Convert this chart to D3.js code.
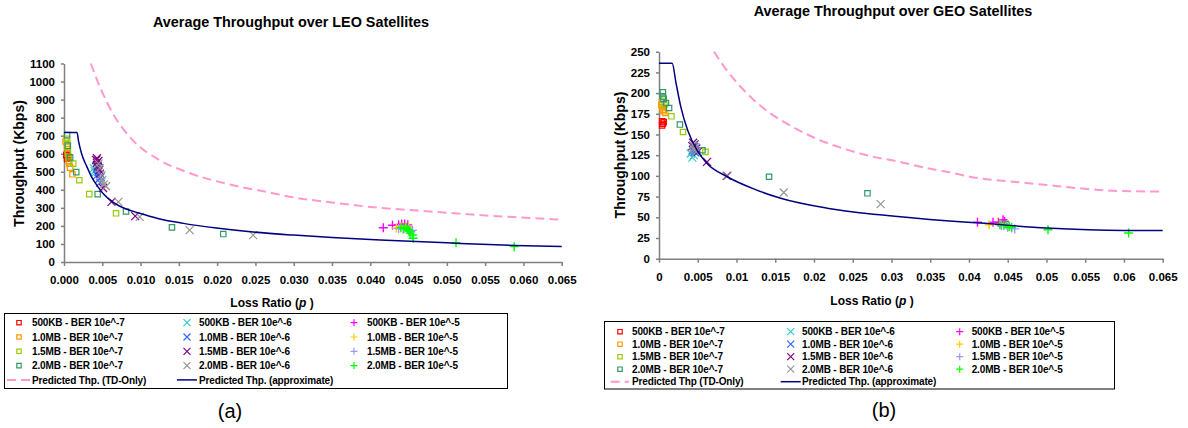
<!DOCTYPE html>
<html>
<head>
<meta charset="utf-8">
<script src="https://cdn.jsdelivr.net/npm/d3@7"></script>
<style>
  body { margin: 0; background: #fff; }
  svg { display: block; }
  text { font-family: "Liberation Sans", Arial, sans-serif; }
</style>
</head>
<body>
<svg id="fig" width="1188" height="428"></svg>
<script>
// ---- data ----
const sizeNames = [ "500KB", "1.0MB", "1.5MB", "2.0MB" ];
const berNames = [ "10e^-7", "10e^-6", "10e^-5" ];
const xTicks = [ 0, 0.005, 0.01, 0.015, 0.02, 0.025, 0.03, 0.035, 0.04, 0.045, 0.05, 0.055, 0.06, 0.065 ];
const leoYTicks = [ 0, 100, 200, 300, 400, 500, 600, 700, 800, 900, 1000, 1100 ];
const geoYTicks = [ 0, 25, 50, 75, 100, 125, 150, 175, 200, 225, 250 ];

// LEO, BER 10e^-7 (squares), one list per file size
const leoBer7 = [
  [ [ 0.0003, 592 ], [ 0.0004, 600 ], [ 0.0005, 585 ], [ 0.0006, 578 ], [ 0.0004, 572 ] ],
  [ [ 0.0002, 668 ], [ 0.0004, 640 ], [ 0.0005, 600 ], [ 0.0006, 560 ], [ 0.0007, 545 ], [ 0.0008, 523 ], [ 0.0011, 486 ] ],
  [ [ 0.0004, 683 ], [ 0.0004, 656 ], [ 0.0005, 610 ], [ 0.0006, 583 ], [ 0.0012, 545 ], [ 0.0020, 453 ], [ 0.0033, 376 ], [ 0.0068, 270 ] ],
  [ [ 0.0004, 703 ], [ 0.0005, 645 ], [ 0.0008, 580 ], [ 0.0016, 498 ], [ 0.0044, 376 ], [ 0.0081, 280 ], [ 0.0141, 192 ], [ 0.0208, 155 ] ]
];
// LEO, BER 10e^-6 (crosses)
const leoBer6 = [
  [ [ 0.0039, 520 ], [ 0.0040, 505 ], [ 0.0042, 530 ], [ 0.0044, 540 ], [ 0.0041, 495 ] ],
  [ [ 0.0043, 480 ], [ 0.0045, 500 ], [ 0.0046, 460 ], [ 0.0047, 440 ], [ 0.0044, 520 ], [ 0.0048, 470 ] ],
  [ [ 0.0042, 565 ], [ 0.0043, 550 ], [ 0.0044, 530 ], [ 0.0045, 560 ], [ 0.0046, 510 ], [ 0.0047, 490 ], [ 0.0051, 410 ], [ 0.0062, 333 ], [ 0.0093, 254 ], [ 0.0043, 575 ] ],
  [ [ 0.0045, 545 ], [ 0.0047, 520 ], [ 0.0049, 480 ], [ 0.0050, 455 ], [ 0.0052, 430 ], [ 0.0055, 420 ], [ 0.0071, 333 ], [ 0.0099, 250 ], [ 0.0164, 177 ], [ 0.0247, 149 ] ]
];
// LEO, BER 10e^-5 (plus signs)
const leoBer5 = [
  [ [ 0.0417, 190 ], [ 0.0429, 204 ], [ 0.0437, 207 ], [ 0.0441, 210 ], [ 0.0445, 210 ], [ 0.0449, 206 ] ],
  [ [ 0.0434, 188 ], [ 0.0440, 195 ], [ 0.0446, 192 ], [ 0.0450, 196 ] ],
  [ [ 0.0437, 185 ], [ 0.0443, 182 ], [ 0.0450, 180 ], [ 0.0455, 175 ], [ 0.0453, 168 ] ],
  [ [ 0.0440, 190 ], [ 0.0444, 186 ], [ 0.0447, 192 ], [ 0.0449, 180 ], [ 0.0451, 172 ], [ 0.0452, 160 ], [ 0.0455, 150 ], [ 0.0456, 132 ], [ 0.0512, 107 ], [ 0.0588, 85 ] ]
];
const leoTdOnly = [ [ 0.0035, 1100 ], [ 0.0047, 969 ], [ 0.0064, 822 ], [ 0.0090, 674 ], [ 0.0125, 564 ], [ 0.0160, 499 ], [ 0.0221, 425 ], [ 0.0265, 388 ], [ 0.0300, 358 ], [ 0.0350, 330 ], [ 0.0413, 300 ], [ 0.0456, 287 ], [ 0.0543, 260 ], [ 0.065, 234 ] ];
const leoApprox = [ [ 0, 718 ], [ 0.0017, 718 ], [ 0.0019, 670 ], [ 0.0023, 600 ], [ 0.0030, 527 ], [ 0.0036, 472 ], [ 0.0043, 425 ], [ 0.0051, 380 ], [ 0.0064, 332 ], [ 0.0082, 292 ], [ 0.0099, 270 ], [ 0.0125, 238 ], [ 0.0156, 214 ], [ 0.0199, 188 ], [ 0.0247, 166 ], [ 0.0300, 149 ], [ 0.0350, 136 ], [ 0.0413, 122 ], [ 0.0500, 106 ], [ 0.0588, 92 ], [ 0.065, 86 ] ];

// GEO, BER 10e^-7
const geoBer7 = [
  [ [ 0.0004, 166 ], [ 0.0005, 163 ], [ 0.0004, 161 ], [ 0.0006, 165 ] ],
  [ [ 0.0003, 186 ], [ 0.0004, 183 ], [ 0.0005, 180 ], [ 0.0006, 178 ], [ 0.0008, 176 ], [ 0.0004, 189 ] ],
  [ [ 0.0005, 192 ], [ 0.0007, 186 ], [ 0.0016, 172 ], [ 0.0031, 153 ], [ 0.0060, 129 ] ],
  [ [ 0.0005, 201 ], [ 0.0005, 196 ], [ 0.0006, 193 ], [ 0.0009, 188 ], [ 0.0013, 182 ], [ 0.0027, 162 ], [ 0.0056, 131 ], [ 0.0142, 99 ], [ 0.0269, 79 ] ]
];
// GEO, BER 10e^-6
const geoBer6 = [
  [ [ 0.0041, 127 ], [ 0.0043, 122 ], [ 0.0045, 125 ], [ 0.0047, 128 ] ],
  [ [ 0.0044, 131 ], [ 0.0046, 129 ], [ 0.0048, 133 ], [ 0.0045, 135 ] ],
  [ [ 0.0044, 140 ], [ 0.0046, 138 ], [ 0.0048, 133 ], [ 0.0050, 129 ], [ 0.0062, 117 ], [ 0.0088, 100 ], [ 0.0043, 136 ] ],
  [ [ 0.0044, 137 ], [ 0.0045, 133 ], [ 0.0046, 131 ], [ 0.0047, 135 ], [ 0.0049, 130 ], [ 0.0087, 100 ], [ 0.0161, 80 ], [ 0.0286, 66 ] ]
];
// GEO, BER 10e^-5
const geoBer5 = [
  [ [ 0.0411, 44 ], [ 0.0431, 44 ], [ 0.0438, 44 ], [ 0.0444, 47 ], [ 0.0446, 45 ] ],
  [ [ 0.0426, 41 ], [ 0.0440, 42 ] ],
  [ [ 0.0442, 40 ], [ 0.0450, 38 ], [ 0.0455, 37 ], [ 0.0459, 36 ] ],
  [ [ 0.0440, 41 ], [ 0.0445, 40 ], [ 0.0448, 41 ], [ 0.0452, 39 ], [ 0.0455, 38 ], [ 0.0502, 35 ], [ 0.0606, 31 ] ]
];
const geoTdOnly = [ [ 0.0071, 250 ], [ 0.0087, 228 ], [ 0.0105, 208 ], [ 0.0122, 192 ], [ 0.0143, 176 ], [ 0.0173, 159 ], [ 0.0203, 145 ], [ 0.0238, 133 ], [ 0.0277, 123 ], [ 0.0311, 117 ], [ 0.0328, 113 ], [ 0.0371, 105 ], [ 0.0414, 97 ], [ 0.0457, 93 ], [ 0.0500, 89 ], [ 0.0543, 85 ], [ 0.0586, 82 ], [ 0.065, 81 ] ];
const geoApprox = [ [ 0, 236 ], [ 0.0017, 236 ], [ 0.0022, 212 ], [ 0.0028, 184 ], [ 0.0037, 155 ], [ 0.0049, 131 ], [ 0.0062, 115 ], [ 0.0088, 99 ], [ 0.0123, 84 ], [ 0.0157, 73 ], [ 0.0217, 61 ], [ 0.0285, 53 ], [ 0.0375, 45.5 ], [ 0.0414, 43 ], [ 0.0500, 37 ], [ 0.0600, 34 ], [ 0.065, 34 ] ];

// ---- styles ----
const sqColors = [ "#ff0000", "#ff9900", "#99cc00", "#339966" ];
const xColors = [ "#33cccc", "#3366ff", "#800080", "#969696" ];
const plusColors = [ "#ff00ff", "#ffcc00", "#9999ff", "#00ff00" ];
const markerKinds = [ "square", "x", "plus" ];
const kindColors = [ sqColors, xColors, plusColors ];
const tdColor = "#ff99cc";
const approxColor = "#000080";
const axisColor = "#808080";

const svg = d3.select( "#fig" );

function markerPath( kind, s ) {
  if ( kind === "square" ) return `M${-s},${-s}H${s}V${s}H${-s}Z`;
  if ( kind === "x" ) return `M${-s},${-s}L${s},${s}M${-s},${s}L${s},${-s}`;
  return `M${-s},0H${s}M0,${-s}V${s}`;
}

function drawMarkers( g, pts, kind, color, x, y ) {
  const size = kind === "square" ? 2.7 : ( kind === "x" ? 4 : 4.5 );
  g.selectAll( null )
    .data( pts )
    .enter()
    .append( "path" )
    .attr( "transform", d => `translate(${x( d[ 0 ] )},${y( d[ 1 ] )})` )
    .attr( "d", markerPath( kind, size ) )
    .attr( "fill", "none" )
    .attr( "stroke", color )
    .attr( "stroke-width", kind === "plus" ? 1.4 : 1.2 );
}

function drawChart( c ) {
  const g = svg.append( "g" );
  const x = d3.scaleLinear().domain( [ 0, 0.065 ] ).range( [ c.left, c.right ] );
  const y = d3.scaleLinear().domain( [ 0, c.yMax ] ).range( [ c.bottom, c.top ] );

  g.append( "text" )
    .attr( "x", c.titleX ).attr( "y", c.titleY )
    .attr( "text-anchor", "middle" )
    .attr( "font-size", 14.4 ).attr( "font-weight", "bold" )
    .text( c.title );

  const xAxis = g.append( "g" )
    .attr( "transform", `translate(0,${c.bottom})` )
    .call( d3.axisBottom( x ).tickValues( xTicks ).tickFormat( c.xFmt ).tickSize( 4 ).tickSizeOuter( 0 ).tickPadding( 10 ) );
  const yAxis = g.append( "g" )
    .attr( "transform", `translate(${c.left},0)` )
    .call( d3.axisLeft( y ).tickValues( c.yTicks ).tickFormat( d3.format( "d" ) ).tickSize( 3 ).tickSizeOuter( 0 ).tickPadding( 6 ) );
  [ xAxis, yAxis ].forEach( a => {
    a.selectAll( "path, line" ).attr( "stroke", axisColor ).attr( "stroke-width", 1.5 );
    a.selectAll( "text" )
      .attr( "fill", "#000" ).attr( "font-size", 11.5 ).attr( "font-weight", "bold" )
      .attr( "font-family", "'Liberation Sans', Arial, sans-serif" );
  } );

  g.append( "text" )
    .attr( "transform", `translate(${c.yLabelX},${c.yLabelY}) rotate(-90)` )
    .attr( "text-anchor", "middle" )
    .attr( "font-size", 14 ).attr( "font-weight", "bold" )
    .text( "Throughput (Kbps)" );

  const xl = g.append( "text" )
    .attr( "x", c.xLabelX ).attr( "y", c.xLabelY )
    .attr( "text-anchor", "middle" )
    .attr( "font-size", 12 ).attr( "font-weight", "bold" );
  xl.append( "tspan" ).text( "Loss Ratio (" );
  xl.append( "tspan" ).attr( "font-style", "italic" ).text( "p" );
  xl.append( "tspan" ).text( " )" );

  // curves
  const line = d3.line()
    .x( d => x( d[ 0 ] ) )
    .y( d => y( d[ 1 ] ) )
    .curve( d3.curveMonotoneX );
  g.append( "path" )
    .attr( "d", line( c.tdOnly ) )
    .attr( "fill", "none" )
    .attr( "stroke", tdColor )
    .attr( "stroke-width", 2 )
    .attr( "stroke-dasharray", "9,5" );

  // scatter
  c.series.forEach( ( group, k ) => {
    group.forEach( ( pts, i ) => drawMarkers( g, pts, markerKinds[ k ], kindColors[ k ][ i ], x, y ) );
  } );

  g.append( "path" )
    .attr( "d", line( c.approx ) )
    .attr( "fill", "none" )
    .attr( "stroke", approxColor )
    .attr( "stroke-width", 1.5 );

  // legend
  const L = c.legend;
  g.append( "rect" )
    .attr( "x", L.x ).attr( "y", L.y ).attr( "width", L.w ).attr( "height", L.h )
    .attr( "fill", "none" ).attr( "stroke", "#000" ).attr( "stroke-width", 1 );
  const label = ( tx, ty, str ) => g.append( "text" )
    .attr( "x", tx ).attr( "y", ty ).attr( "dy", "0.36em" )
    .attr( "font-size", 10 ).attr( "font-weight", "bold" )
    .attr( "letter-spacing", "-0.15px" )
    .text( str );
  berNames.forEach( ( ber, k ) => {
    sizeNames.forEach( ( sz, i ) => {
      const ry = L.row0 + i * L.rowStep;
      g.append( "path" )
        .attr( "transform", `translate(${L.markX[ k ]},${ry})` )
        .attr( "d", markerPath( markerKinds[ k ], markerKinds[ k ] === "square" ? 2.2 : 3.5 ) )
        .attr( "fill", "none" )
        .attr( "stroke", kindColors[ k ][ i ] )
        .attr( "stroke-width", 1.2 );
      label( L.textX[ k ], ry, `${sz} - BER ${ber}` );
    } );
  } );
  const ry = L.row0 + 4 * L.rowStep;
  g.append( "line" )
    .attr( "x1", L.dash[ 0 ] ).attr( "x2", L.dash[ 1 ] ).attr( "y1", ry ).attr( "y2", ry )
    .attr( "stroke", tdColor ).attr( "stroke-width", 2 ).attr( "stroke-dasharray", "9,5" );
  label( L.textX[ 0 ], ry, c.tdLabel );
  g.append( "line" )
    .attr( "x1", L.solid[ 0 ] ).attr( "x2", L.solid[ 1 ] ).attr( "y1", ry ).attr( "y2", ry )
    .attr( "stroke", approxColor ).attr( "stroke-width", 1.5 );
  label( L.textX[ 1 ], ry, "Predicted Thp. (approximate)" );

  g.append( "text" )
    .attr( "x", c.capX ).attr( "y", c.capY )
    .attr( "text-anchor", "middle" )
    .attr( "font-family", "'Liberation Serif', 'Times New Roman', serif" )
    .attr( "font-size", 20 )
    .text( c.caption );
}

drawChart( {
  title: "Average Throughput over LEO Satellites", titleX: 291, titleY: 27,
  left: 64, right: 561.7, bottom: 262, top: 63.5, yMax: 1100, yTicks: leoYTicks,
  xFmt: d3.format( ".3f" ),
  yLabelX: 24, yLabelY: 163.5, xLabelX: 272, xLabelY: 307,
  tdOnly: leoTdOnly, approx: leoApprox, series: [ leoBer7, leoBer6, leoBer5 ],
  tdLabel: "Predicted Thp. (TD-Only)",
  legend: { x: 4.5, y: 313.5, w: 503, h: 75, row0: 322.7, rowStep: 14.3,
    markX: [ 19, 187, 354 ], textX: [ 32, 199, 367 ], dash: [ 7, 30 ], solid: [ 177, 197 ] },
  caption: "(a)", capX: 230, capY: 418
} );

drawChart( {
  title: "Average Throughput over GEO Satellites", titleX: 893, titleY: 15.5,
  left: 659, right: 1162.7, bottom: 258.7, top: 51.7, yMax: 250, yTicks: geoYTicks,
  xFmt: d3.format( "~g" ),
  yLabelX: 625, yLabelY: 155, xLabelX: 872, xLabelY: 305,
  tdOnly: geoTdOnly, approx: geoApprox, series: [ geoBer7, geoBer6, geoBer5 ],
  tdLabel: "Predicted Thp (TD-Only)",
  legend: { x: 604.5, y: 321.5, w: 510, h: 67.5, row0: 331.7, rowStep: 12.5,
    markX: [ 620, 790.7, 959.7 ], textX: [ 632, 802, 971.7 ], dash: [ 610.7, 629 ], solid: [ 780.7, 800.7 ] },
  caption: "(b)", capX: 884, capY: 417
} );
</script>
</body>
</html>
